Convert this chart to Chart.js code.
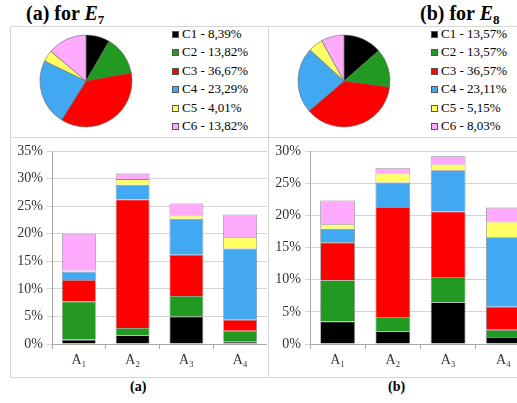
<!DOCTYPE html>
<html>
<head>
<meta charset="utf-8">
<script src="https://cdn.jsdelivr.net/npm/chart.js@4/dist/chart.umd.min.js"></script>
<style>
  body { margin: 0; width: 517px; height: 403px; overflow: hidden; background: #fff; position: relative;
         font-family: "Liberation Serif", "Times New Roman", serif; color: #000; }
  .box { position: absolute; border: 1px solid #d6d6d6; box-sizing: border-box; }
  .title { position: absolute; top: 2px; font-size: 20px; font-weight: bold; white-space: nowrap; }
  .title i { font-style: italic; }
  .title sub { font-size: 13px; vertical-align: -4px; }
  .cap { position: absolute; top: 379px; font-size: 14px; font-weight: bold; }
  .legend { position: absolute; top: 25px; font-size: 13px; line-height: 18.4px; white-space: nowrap; }
  .legend span { display: inline-block; width: 7px; height: 7px; border: 0.5px solid #555;
                 margin-right: 3px; vertical-align: 0px; box-sizing: border-box; }
  canvas { position: absolute; }
</style>
</head>
<body>
<div class="title" style="left:26px">(a) for <i>E</i><sub>7</sub></div>
<div class="title" style="left:420px">(b) for <i>E</i><sub>8</sub></div>

<div class="box" style="left:10px;top:26px;width:259px;height:112px"></div>
<div class="box" style="left:10px;top:137px;width:259px;height:241px"></div>
<div class="box" style="left:268px;top:26px;width:270px;height:112px"></div>
<div class="box" style="left:268px;top:137px;width:270px;height:241px"></div>

<canvas id="pieA" width="150" height="110" style="left:11px;top:26px"></canvas>
<canvas id="pieB" width="150" height="110" style="left:269px;top:26px"></canvas>
<div class="legend" id="legA" style="left:172px"></div>
<div class="legend" id="legB" style="left:431px"></div>
<canvas id="barA" width="256" height="239" style="left:11px;top:138px"></canvas>
<canvas id="barB" width="262" height="239" style="left:269px;top:138px"></canvas>

<div class="cap" style="left:130px">(a)</div>
<div class="cap" style="left:388px">(b)</div>

<script>
// ===== DATA =====
const classes = ['C1', 'C2', 'C3', 'C4', 'C5', 'C6'];
const alternatives = ['A\u2081', 'A\u2082', 'A\u2083', 'A\u2084'];
const colors = ['#000000', '#229a22', '#ff0000', '#42a8f2', '#ffff66', '#ffaaff'];

// share of each class overall (%)
const pieE7 = [8.39, 13.82, 36.67, 23.29, 4.01, 13.82];
const pieE8 = [13.57, 13.57, 36.57, 23.11, 5.15, 8.03];

// per class, values for A1..A4 (%)
const barsE7 = [
  [0.8, 1.6, 5.0, 0.4],   // C1
  [6.9, 1.3, 3.7, 2.0],   // C2
  [3.9, 23.3, 7.5, 2.0],  // C3
  [1.5, 2.7, 6.5, 12.9],  // C4
  [0.2, 1.0, 0.6, 2.1],   // C5
  [6.7, 1.0, 2.2, 4.1]    // C6
];
const barsE8 = [
  [3.5, 2.0, 6.5, 1.1],
  [6.4, 2.2, 3.9, 1.1],
  [5.9, 17.1, 10.2, 3.6],
  [2.1, 3.8, 6.4, 10.8],
  [0.7, 1.4, 0.9, 2.4],
  [3.7, 0.8, 1.3, 2.2]
];
const yMaxE7 = 35;
const yMaxE8 = 30;

const serif = '"Liberation Serif", "Times New Roman", serif';

// ===== PIE CHARTS =====
function makePie(id, legendId, values) {
  new Chart(document.getElementById(id), {
    type: 'pie',
    data: {
      labels: classes,
      datasets: [{
        data: values,
        backgroundColor: colors,
        borderColor: '#666',
        borderWidth: 0.6,
        radius: 46
      }]
    },
    options: {
      responsive: false,
      animation: false,
      plugins: { legend: { display: false }, tooltip: { enabled: false } }
    }
  });
  // legend with the percentages, decimal comma
  document.getElementById(legendId).innerHTML = classes.map((c, i) =>
    '<div><span style="background:' + colors[i] + '"></span>' + c + ' - ' +
    values[i].toFixed(2).replace('.', ',') + '%</div>').join('');
}

// ===== STACKED BARS =====
function makeBars(id, rows, yMax) {
  new Chart(document.getElementById(id), {
    type: 'bar',
    data: {
      labels: alternatives,
      datasets: rows.map((r, i) => ({
        label: classes[i],
        data: r,
        backgroundColor: colors[i],
        borderColor: 'rgba(90,90,90,0.7)',
        borderWidth: 0.8,
        barPercentage: 0.63,
        categoryPercentage: 1
      }))
    },
    options: {
      responsive: false,
      animation: false,
      layout: { padding: { top: 13, right: 0, left: 0, bottom: 0 } },
      plugins: { legend: { display: false }, tooltip: { enabled: false } },
      scales: {
        x: {
          stacked: true,
          grid: { display: true, drawOnChartArea: false, offset: true, color: '#a8a8a8', tickLength: 5 },
          border: { color: '#a8a8a8' },
          ticks: { color: '#333', font: { family: serif, size: 14 }, padding: 3 },
          afterFit: s => { s.height = 33; }
        },
        y: {
          stacked: true,
          min: 0,
          max: yMax,
          grid: { color: '#d4d4d4', tickLength: 5 },
          border: { color: '#a8a8a8' },
          ticks: { stepSize: 5, color: '#333', font: { family: serif, size: 14 }, padding: 4,
                   callback: v => v + '%' },
          afterFit: s => { s.width = 41; }
        }
      }
    }
  });
}

function drawAll() {
  Chart.defaults.font.family = serif;
  makePie('pieA', 'legA', pieE7);
  makePie('pieB', 'legB', pieE8);
  makeBars('barA', barsE7, yMaxE7);
  makeBars('barB', barsE8, yMaxE8);
}

// canvas text needs the serif face ready before drawing
document.fonts.load('14px "Liberation Serif"').then(drawAll, drawAll);
</script>
</body>
</html>
